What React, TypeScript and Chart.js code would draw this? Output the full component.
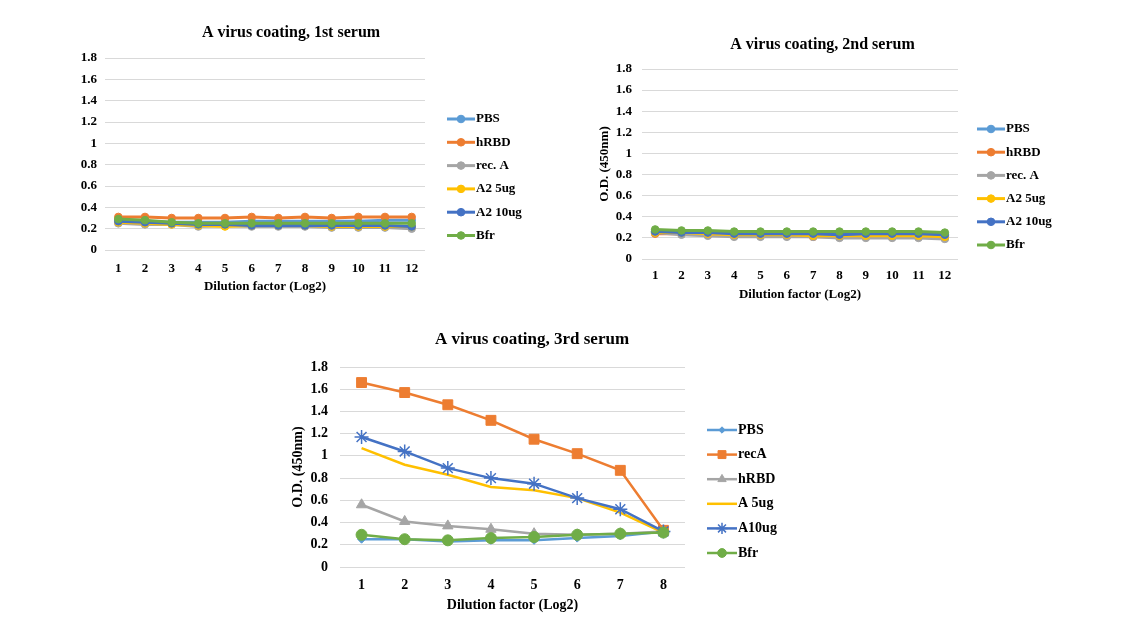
import React, { useEffect, useRef } from 'react';
import { Chart, registerables } from 'chart.js';
import { drawPoint } from 'chart.js/helpers';

Chart.register(...registerables);

// ---------- data ----------
const dilution12 = ['1', '2', '3', '4', '5', '6', '7', '8', '9', '10', '11', '12'];
const dilution8 = ['1', '2', '3', '4', '5', '6', '7', '8'];

const serumTitles = ['A virus coating, 1st serum', 'A virus coating, 2nd serum', 'A virus coating, 3rd serum'];
const xAxisTitle = 'Dilution factor (Log2)';
const yAxisTitle = 'O.D. (450nm)';

const names12 = ['PBS', 'hRBD', 'rec. A', 'A2 5ug', 'A2 10ug', 'Bfr'];
const names3 = ['PBS', 'recA', 'hRBD', 'A 5ug', 'A10ug', 'Bfr'];

// 1st serum
const s1PBS = [0.28, 0.27, 0.26, 0.26, 0.26, 0.27, 0.27, 0.27, 0.27, 0.27, 0.28, 0.28];
const s1hRBD = [0.31, 0.31, 0.30, 0.30, 0.30, 0.31, 0.30, 0.31, 0.30, 0.31, 0.31, 0.31];
const s1recA = [0.25, 0.24, 0.24, 0.22, 0.23, 0.22, 0.22, 0.22, 0.21, 0.21, 0.21, 0.20];
const s1A25 = [0.26, 0.25, 0.24, 0.23, 0.22, 0.23, 0.23, 0.23, 0.22, 0.22, 0.22, 0.22];
const s1A210 = [0.27, 0.26, 0.25, 0.24, 0.24, 0.23, 0.23, 0.23, 0.23, 0.23, 0.23, 0.22];
const s1Bfr = [0.29, 0.28, 0.26, 0.25, 0.25, 0.25, 0.25, 0.25, 0.25, 0.25, 0.25, 0.25];

// 2nd serum
const s2PBS = [0.26, 0.25, 0.24, 0.22, 0.22, 0.22, 0.23, 0.23, 0.23, 0.23, 0.23, 0.22];
const s2hRBD = [0.24, 0.24, 0.23, 0.22, 0.22, 0.22, 0.21, 0.21, 0.21, 0.21, 0.21, 0.20];
const s2recA = [0.25, 0.23, 0.22, 0.21, 0.21, 0.21, 0.21, 0.20, 0.20, 0.20, 0.20, 0.19];
const s2A25 = [0.25, 0.25, 0.24, 0.23, 0.23, 0.23, 0.22, 0.22, 0.22, 0.22, 0.22, 0.21];
const s2A210 = [0.26, 0.25, 0.25, 0.24, 0.24, 0.24, 0.24, 0.23, 0.24, 0.24, 0.24, 0.23];
const s2Bfr = [0.28, 0.27, 0.27, 0.26, 0.26, 0.26, 0.26, 0.26, 0.26, 0.26, 0.26, 0.25];

// 3rd serum
const s3PBS = [0.25, 0.25, 0.23, 0.24, 0.24, 0.26, 0.28, 0.32];
const s3recA = [1.66, 1.57, 1.46, 1.32, 1.15, 1.02, 0.87, 0.33];
const s3hRBD = [0.56, 0.41, 0.37, 0.34, 0.30, 0.29, 0.30, 0.32];
const s3A5 = [1.07, 0.92, 0.83, 0.72, 0.69, 0.62, 0.49, 0.31];
const s3A10 = [1.17, 1.04, 0.89, 0.80, 0.75, 0.62, 0.52, 0.32];
const s3Bfr = [0.29, 0.25, 0.24, 0.26, 0.27, 0.29, 0.30, 0.31];

const yMin = 0;
const yMax = 1.8;
const yStep = 0.2;

// ---------- styles ----------
const COLORS = ['#5B9BD5', '#ED7D31', '#A5A5A5', '#FFC000', '#4472C4', '#70AD47'];
const FONT = '"Liberation Serif", "Times New Roman", serif';

const excelLegend = {
  id: 'excelLegend',
  afterDraw(chart: any, _args: any, opts: any) {
    const { ctx, chartArea } = chart;
    const x0 = chartArea.right + opts.dx;
    ctx.save();
    chart.data.datasets.forEach((ds: any, i: number) => {
      const y = chartArea.top + opts.dy + i * opts.gap;
      ctx.strokeStyle = ds.borderColor;
      ctx.lineWidth = ds.borderWidth;
      ctx.beginPath();
      ctx.moveTo(x0, y);
      ctx.lineTo(x0 + opts.len, y);
      ctx.stroke();
      if (ds.pointRadius > 0) {
        ctx.fillStyle = ds.pointBackgroundColor;
        ctx.strokeStyle = ds.pointBorderColor;
        ctx.lineWidth = ds.pointBorderWidth;
        drawPoint(
          ctx,
          { pointStyle: ds.pointStyle, rotation: 0, radius: ds.pointRadius * opts.markerScale, borderWidth: ds.pointBorderWidth },
          x0 + opts.len / 2,
          y
        );
      }
      ctx.fillStyle = '#000';
      ctx.font = `bold ${opts.fontSize}px ${FONT}`;
      ctx.textBaseline = 'middle';
      ctx.textAlign = 'left';
      ctx.fillText(ds.label, x0 + opts.len + 1, y);
    });
    ctx.restore();
  },
};

type Layout = {
  w: number;
  h: number;
  title: string;
  titleSize: number;
  titlePad: { top: number; bottom: number };
  tickSize: number;
  axisTitleSize: number;
  yWidth: number;
  yTickPad: number;
  yTitle: boolean;
  yTitlePad: number;
  rightWidth: number;
  xHeight: number;
  xTickPad: number;
  xTitlePad: number;
  legend: { dx: number; dy: number; gap: number; len: number; fontSize: number; markerScale: number };
};

function buildConfig(labels: string[], datasets: any[], L: Layout) {
  return {
    type: 'line' as const,
    data: { labels, datasets },
    plugins: [excelLegend],
    options: {
      responsive: false,
      animation: false as const,
      devicePixelRatio: 1,
      layout: { padding: 0 },
      plugins: {
        legend: { display: false },
        tooltip: { enabled: false },
        title: {
          display: true,
          text: L.title,
          color: '#000',
          font: { family: FONT, size: L.titleSize, weight: 'bold' as const },
          padding: L.titlePad,
        },
        excelLegend: L.legend,
      },
      scales: {
        x: {
          type: 'category' as const,
          offset: true,
          grid: { display: false, drawTicks: false },
          border: { display: false },
          ticks: { color: '#000', padding: L.xTickPad, font: { family: FONT, size: L.tickSize, weight: 'bold' as const }, maxRotation: 0 },
          title: {
            display: true,
            text: xAxisTitle,
            color: '#000',
            font: { family: FONT, size: L.axisTitleSize, weight: 'bold' as const },
            padding: { top: 0, bottom: L.xTitlePad },
          },
          afterFit: (a: any) => {
            a.height = L.xHeight;
          },
        },
        y: {
          type: 'linear' as const,
          min: yMin,
          max: yMax,
          grid: { color: '#D9D9D9', lineWidth: 1, drawTicks: false },
          border: { display: false },
          ticks: {
            stepSize: yStep,
            color: '#000',
            padding: L.yTickPad,
            font: { family: FONT, size: L.tickSize, weight: 'bold' as const },
            callback: (v: any) => String(Number(Number(v).toFixed(1))),
          },
          title: {
            display: L.yTitle,
            text: yAxisTitle,
            color: '#000',
            font: { family: FONT, size: L.axisTitleSize, weight: 'bold' as const },
            padding: { top: L.yTitlePad, bottom: 0 },
          },
          afterFit: (a: any) => {
            a.width = L.yWidth;
          },
        },
        yR: {
          type: 'linear' as const,
          position: 'right' as const,
          min: 0,
          max: 1,
          grid: { display: false, drawTicks: false },
          border: { display: false },
          ticks: { display: false },
          afterFit: (a: any) => {
            a.width = L.rightWidth;
          },
        },
      },
    },
  };
}

function ds12(names: string[], series: number[][]) {
  return series.map((data, i) => ({
    label: names[i],
    data,
    order: 5 - i,
    borderColor: COLORS[i],
    backgroundColor: COLORS[i],
    borderWidth: 3,
    pointStyle: 'circle',
    pointRadius: 3.8,
    pointBackgroundColor: COLORS[i],
    pointBorderColor: COLORS[i],
    pointBorderWidth: 1,
    tension: 0,
  }));
}

const STYLE3 = [
  { pointStyle: 'rectRot', pointRadius: 4 },
  { pointStyle: 'rect', pointRadius: 7 },
  { pointStyle: 'triangle', pointRadius: 6 },
  { pointStyle: 'circle', pointRadius: 0 },
  { pointStyle: 'star', pointRadius: 7 },
  { pointStyle: 'circle', pointRadius: 5.5 },
];

function ds8(names: string[], series: number[][]) {
  return series.map((data, i) => ({
    label: names[i],
    data,
    order: 5 - i,
    borderColor: COLORS[i],
    backgroundColor: COLORS[i],
    borderWidth: 2.5,
    pointStyle: STYLE3[i].pointStyle,
    pointRadius: STYLE3[i].pointRadius,
    pointBackgroundColor: COLORS[i],
    pointBorderColor: COLORS[i],
    pointBorderWidth: i === 4 ? 1.5 : 1,
    tension: 0,
  }));
}

function ChartBox({ left, top, make }: { left: number; top: number; make: () => any }) {
  const ref = useRef<HTMLCanvasElement>(null);
  const cfg = make();
  const w = cfg.__w;
  const h = cfg.__h;
  useEffect(() => {
    const c = make();
    const chart = new Chart(ref.current as HTMLCanvasElement, c as any);
    return () => chart.destroy();
  }, []);
  return <canvas ref={ref} width={w} height={h} style={{ position: 'absolute', left, top, width: w, height: h }} />;
}

const L1: Layout = {
  w: 478, h: 285, title: serumTitles[0], titleSize: 16, titlePad: { top: 8.4, bottom: 15.4 },
  tickSize: 13, axisTitleSize: 13, yWidth: 53, yTickPad: 8, yTitle: false, yTitlePad: 0,
  rightWidth: 105, xHeight: 50, xTickPad: 11.2, xTitlePad: 5.2,
  legend: { dx: 22, dy: 61, gap: 23.3, len: 28, fontSize: 13, markerScale: 1 },
};
const L2: Layout = {
  w: 475, h: 281, title: serumTitles[1], titleSize: 16, titlePad: { top: 8.4, bottom: 14.4 },
  tickSize: 13, axisTitleSize: 13, yWidth: 57, yTickPad: 10, yTitle: true, yTitlePad: 12.2,
  rightWidth: 102, xHeight: 49, xTickPad: 9.2, xTitlePad: 5.2,
  legend: { dx: 19, dy: 60, gap: 23.2, len: 28, fontSize: 13, markerScale: 1 },
};
const L3: Layout = {
  w: 496, h: 303, title: serumTitles[2], titleSize: 17, titlePad: { top: 7.8, bottom: 16.8 },
  tickSize: 14, axisTitleSize: 14, yWidth: 56, yTickPad: 12, yTitle: true, yTitlePad: 5.6,
  rightWidth: 95, xHeight: 58, xTickPad: 9.9, xTitlePad: 11.6,
  legend: { dx: 22, dy: 63, gap: 24.6, len: 30, fontSize: 14, markerScale: 0.8 },
};

function withSize(cfg: any, L: Layout) {
  cfg.__w = L.w;
  cfg.__h = L.h;
  return cfg;
}

const make1 = () => withSize(buildConfig(dilution12, ds12(names12, [s1PBS, s1hRBD, s1recA, s1A25, s1A210, s1Bfr]), L1), L1);
const make2 = () => withSize(buildConfig(dilution12, ds12(names12, [s2PBS, s2hRBD, s2recA, s2A25, s2A210, s2Bfr]), L2), L2);
const make3 = () => withSize(buildConfig(dilution8, ds8(names3, [s3PBS, s3recA, s3hRBD, s3A5, s3A10, s3Bfr]), L3), L3);

export default function App() {
  return (
    <div style={{ position: 'absolute', left: 0, top: 0, width: 1128, height: 630, background: '#fff', overflow: 'hidden' }}>
      <ChartBox left={52} top={15} make={make1} />
      <ChartBox left={585} top={27} make={make2} />
      <ChartBox left={284} top={322} make={make3} />
    </div>
  );
}
